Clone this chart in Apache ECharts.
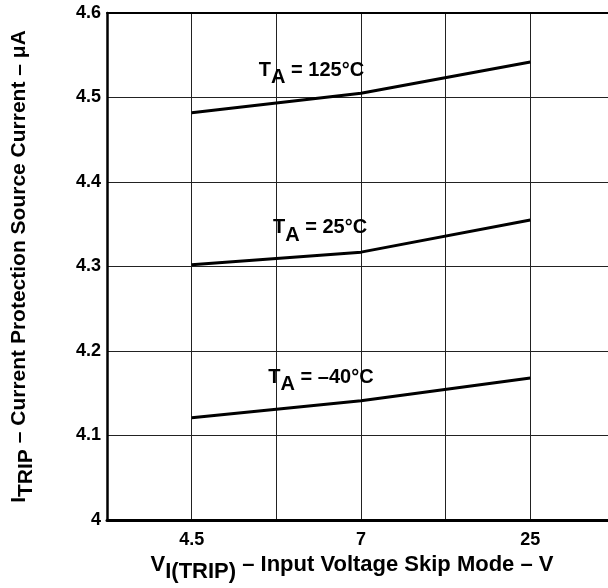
<!DOCTYPE html>
<html>
<head>
<meta charset="utf-8">
<style>
  html, body { margin: 0; padding: 0; background: #fff; }
  #chart { width: 608px; height: 588px; }
</style>
<script src="https://cdn.jsdelivr.net/npm/echarts@6/dist/echarts.min.js"></script>
</head>
<body>
<div id="chart"></div>
<script>
// x positions on a 0..6 grid; only 1, 3, 5 carry real categories
const xTickLabels = ['', '4.5', '', '7', '', '25', '']
const xPositions = [1, 3, 5]

const yTicks = [4, 4.1, 4.2, 4.3, 4.4, 4.5, 4.6]

const curve125 = [4.482, 4.505, 4.542]
const curve25 = [4.302, 4.317, 4.355]
const curveM40 = [4.121, 4.141, 4.168]

const curveNames = ['125°C', '25°C', '–40°C']

const font = 'Liberation Sans, Arial, Helvetica, sans-serif'

const pairs = (vals) => vals.map((v, i) => [xPositions[i], v])

// main text + lowered subscript of the same size
const subRich = (size, lh) => ({
  m: { fontSize: size, fontWeight: 'bold', fontFamily: font, color: '#000', verticalAlign: 'middle' },
  s: { fontSize: size, fontWeight: 'bold', fontFamily: font, color: '#000', verticalAlign: 'bottom', lineHeight: lh },
})

const tempLabel = (name) => ({
  show: true,
  position: 'inside',
  formatter: `{m|T}{s|A}{m| = ${name}}`,
  rich: subRich(20, 35),
})

const lineSeries = (vals, name, at) => ({
  type: 'line',
  name,
  data: pairs(vals),
  showSymbol: false,
  lineStyle: { width: 3, color: '#000' },
  silent: true,
  markPoint: {
    symbol: 'circle',
    symbolSize: 0,
    silent: true,
    data: [{ coord: at, label: tempLabel(name) }],
  },
})

const chart = echarts.init(document.getElementById('chart'))

chart.setOption({
  animation: false,
  backgroundColor: '#fff',
  grid: { left: 107, right: -7, top: 13, bottom: 68, containLabel: false, outerBoundsMode: 'none' },
  xAxis: [
    {
      type: 'value',
      min: 0,
      max: 6,
      interval: 1,
      axisLine: { show: true, onZero: false, lineStyle: { color: '#000', width: 3 } },
      axisTick: { show: false },
      splitLine: { show: true, lineStyle: { color: '#222', width: 1 } },
      axisLabel: {
        margin: 11,
        fontSize: 18,
        fontWeight: 'bold',
        fontFamily: font,
        color: '#000',
        formatter: (v) => xTickLabels[Math.round(v)] || '',
      },
      name: '{m|V}{s|I(TRIP)}{m| – Input Voltage Skip Mode – V}',
      nameLocation: 'middle',
      nameGap: 27,
      nameTextStyle: {
        padding: [0, 18, 0, 0],
        rich: subRich(22, 36),
      },
    },
    {
      type: 'value',
      position: 'top',
      min: 0,
      max: 6,
      interval: 1,
      axisLine: { show: true, onZero: false, lineStyle: { color: '#000', width: 2 } },
      axisTick: { show: false },
      axisLabel: { show: false },
      splitLine: { show: false },
    },
  ],
  yAxis: {
    type: 'value',
    min: yTicks[0],
    max: yTicks[yTicks.length - 1],
    interval: 0.1,
    axisLine: { show: true, onZero: false, lineStyle: { color: '#000', width: 2.5 } },
    axisTick: { show: false },
    splitLine: { show: true, lineStyle: { color: '#222', width: 1 } },
    axisLabel: {
      margin: 6,
      fontSize: 18,
      fontWeight: 'bold',
      fontFamily: font,
      color: '#000',
      formatter: (v) => String(+v.toFixed(1)),
    },
    name: '{m|I}{s|TRIP}{m| – Current Protection Source Current – μA}',
    nameLocation: 'middle',
    nameRotate: 90,
    nameGap: 70,
    nameTextStyle: {
      rich: subRich(21, 35),
    },
  },
  series: [
    lineSeries(curve125, curveNames[0], [2.415, 4.5325]),
    lineSeries(curve25, curveNames[1], [2.516, 4.3456]),
    lineSeries(curveM40, curveNames[2], [2.527, 4.169]),
  ],
})
</script>
</body>
</html>
